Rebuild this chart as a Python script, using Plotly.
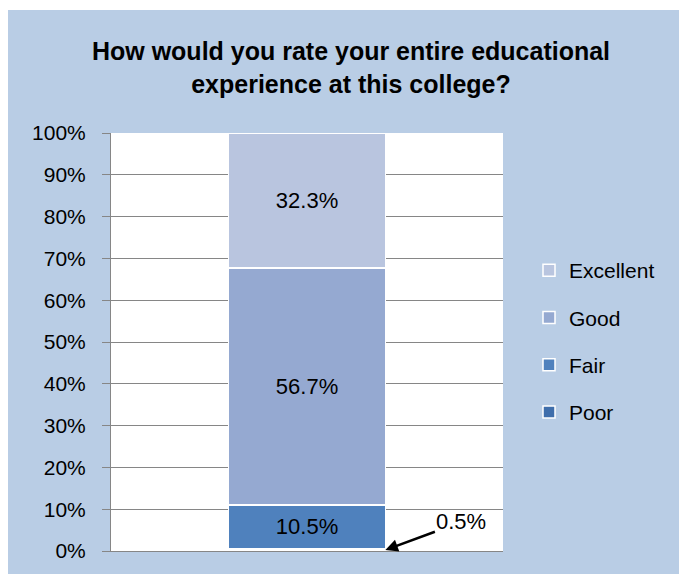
import plotly.graph_objects as go

categories = ["Rating"]
series_names = ["Poor", "Fair", "Good", "Excellent"]
series_values = [0.5, 10.5, 56.7, 32.3]
series_colors = ["#3F6EAB", "#4F81BD", "#95A9D1", "#B9C5DF"]
tick_vals = list(range(0, 101, 10))
tick_labels = [f"{v}%" for v in tick_vals]

W, H = 679, 574
L, R, T, B = 111, 176, 133, 23
pw, ph = W - L - R, H - T - B

def px_x(p):
    return (p - L) / pw

def px_y(p):
    return (H - B - p) / ph

FONT = "Liberation Sans"

fig = go.Figure()
n = len(series_names)
for i, (name, val, col) in enumerate(zip(series_names, series_values, series_colors)):
    fig.add_trace(go.Bar(
        x=categories, y=[val], name=name,
        marker=dict(color=col, line=dict(color="white", width=1.5)),
        width=0.4,
        text=[f"{val:.1f}%" if name != "Poor" else ""],
        textposition="inside", insidetextanchor="middle",
        textfont=dict(size=22, color="black", family=FONT),
        legendgroup=name,
        legendrank=n - i,
        hoverinfo="skip",
    ))

fig.update_layout(
    width=W, height=H,
    margin=dict(l=L, r=R, t=T, b=B, autoexpand=False),
    barmode="stack",
    paper_bgcolor="white", plot_bgcolor="white",
    font=dict(family=FONT, size=21, color="black"),
    title=dict(text="<b>How would you rate your entire educational<br>experience at this college?</b>",
               x=351 / W, xanchor="center", xref="container",
               y=1 - 60 / H, yanchor="middle", yref="container",
               font=dict(size=25, family=FONT, color="black")),
    showlegend=True,
    legend=dict(x=px_x(529), y=px_y(250), xanchor="left", yanchor="top",
                traceorder="grouped", tracegroupgap=17,
                font=dict(size=21, family=FONT), bgcolor="rgba(0,0,0,0)",
                itemwidth=30),
    xaxis=dict(range=[-0.5, 0.5], showticklabels=False, ticks="",
               showline=True, linecolor="#868686", linewidth=1,
               showgrid=False, zeroline=False, fixedrange=True),
    yaxis=dict(range=[0, 100], tickvals=tick_vals, ticktext=tick_labels,
               showgrid=True, gridcolor="#868686", gridwidth=1,
               ticks="outside", ticklen=8, tickcolor="#868686",
               showline=True, linecolor="#868686", linewidth=1,
               zeroline=False, ticklabelstandoff=12,
               tickfont=dict(size=21, family=FONT)),
    shapes=[
        dict(type="rect", xref="paper", yref="paper", layer="below",
             x0=px_x(8), x1=px_x(W + 2), y0=px_y(H + 2), y1=px_y(10),
             fillcolor="#B9CDE5", line=dict(width=0)),
        dict(type="rect", xref="paper", yref="paper", layer="below",
             x0=0, x1=1, y0=0, y1=1,
             fillcolor="white", line=dict(width=0)),
    ],
)

fig.add_annotation(
    x=0.2, y=series_values[0] / 2, xref="x", yref="y",
    text="0.5%", showarrow=True, arrowhead=2, arrowsize=1, arrowwidth=2.5,
    arrowcolor="black", ax=76, ay=-28, axref="pixel", ayref="pixel",
    font=dict(size=22, color="black", family=FONT),
)

fig.write_html("out.html")
